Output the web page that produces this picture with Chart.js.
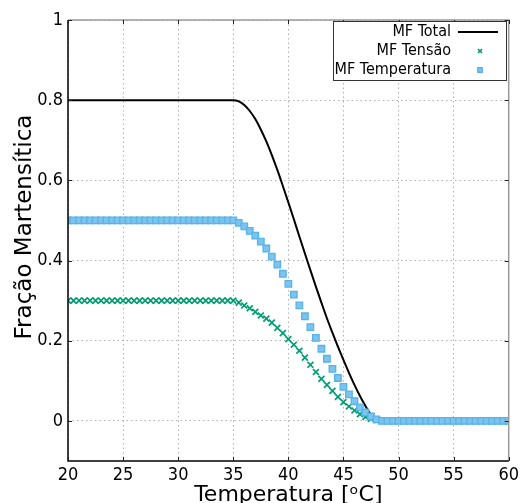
<!DOCTYPE html>
<html>
<head>
<meta charset="utf-8">
<script src="https://cdn.jsdelivr.net/npm/chart.js@4/dist/chart.umd.min.js"></script>
<style>
html,body{margin:0;padding:0;background:#fff;}
#wrap{width:523px;height:503px;}
</style>
</head>
<body>
<div id="wrap"><canvas id="c" width="523" height="503"></canvas></div>
<script>
const temperatures = [20,20.5,21,21.5,22,22.5,23,23.5,24,24.5,25,25.5,26,26.5,27,27.5,28,28.5,29,29.5,30,30.5,31,31.5,32,32.5,33,33.5,34,34.5,35,35.5,36,36.5,37,37.5,38,38.5,39,39.5,40,40.5,41,41.5,42,42.5,43,43.5,44,44.5,45,45.5,46,46.5,47,47.5,48,48.5,49,49.5,50,50.5,51,51.5,52,52.5,53,53.5,54,54.5,55,55.5,56,56.5,57,57.5,58,58.5,59,59.5,60];

const mfTotal = [0.8,0.8,0.8,0.8,0.8,0.8,0.8,0.8,0.8,0.8,0.8,0.8,0.8,0.8,0.8,0.8,0.8,0.8,0.8,0.8,0.8,0.8,0.8,0.8,0.8,0.8,0.8,0.8,0.8,0.8,0.8,
0.797,0.788,0.773,0.753,0.727,0.697,0.663,0.626,0.586,0.545,0.503,0.460,0.418,0.376,0.335,0.295,0.256,0.220,0.185,0.152,0.120,0.090,0.062,0.037,0.016,0.004,0,
0,0,0,0,0,0,0,0,0,0,0,0,0,0,0,0,0,0,0,0,0,0,0];

const mfTensao = [0.3,0.3,0.3,0.3,0.3,0.3,0.3,0.3,0.3,0.3,0.3,0.3,0.3,0.3,0.3,0.3,0.3,0.3,0.3,0.3,0.3,0.3,0.3,0.3,0.3,0.3,0.3,0.3,0.3,0.3,0.3,
0.295,0.288,0.281,0.272,0.263,0.255,0.245,0.232,0.219,0.204,0.190,0.175,0.158,0.140,0.122,0.105,0.090,0.075,0.060,0.047,0.036,0.026,0.017,0.010,0.005,0.002,0,
0,0,0,0,0,0,0,0,0,0,0,0,0,0,0,0,0,0,0,0,0,0,0];

const mfTemperatura = [0.5,0.5,0.5,0.5,0.5,0.5,0.5,0.5,0.5,0.5,0.5,0.5,0.5,0.5,0.5,0.5,0.5,0.5,0.5,0.5,0.5,0.5,0.5,0.5,0.5,0.5,0.5,0.5,0.5,0.5,0.5,
0.494,0.485,0.474,0.462,0.447,0.430,0.410,0.390,0.367,0.342,0.315,0.288,0.261,0.234,0.207,0.180,0.155,0.130,0.107,0.085,0.066,0.049,0.034,0.021,0.011,0.004,0,
0,0,0,0,0,0,0,0,0,0,0,0,0,0,0,0,0,0,0,0,0,0,0];

const xTicks = [20,25,30,35,40,45,50,55,60];
const yTicks = [0,0.2,0.4,0.6,0.8,1];
const yTickLabels = ['0','0.2','0.4','0.6','0.8','1'];
const seriesLabels = ['MF Total','MF Tensão','MF Temperatura'];
const xTitle = 'Temperatura [ᵒC]';
const yTitle = 'Fração Martensítica';

const FONT = "'DejaVu Sans Condensed','DejaVu Sans',sans-serif";
const TFONT = "'DejaVu Sans',sans-serif";
const GREEN = '#009e73';
const BLUE = '#56b4e9';

const toXY = arr => arr.map((v,i)=>({x:temperatures[i], y:v}));

const overlay = {
  id:'overlay',
  afterDraw(chart){
    const ctx = chart.ctx, a = chart.chartArea;
    const xs = chart.scales.x, ys = chart.scales.y;
    ctx.save();
    // border
    ctx.lineWidth = 1.5;
    ctx.strokeStyle = '#9a9a9a';
    ctx.beginPath();
    ctx.moveTo(a.left, a.top); ctx.lineTo(a.right, a.top); ctx.lineTo(a.right, a.bottom);
    ctx.stroke();
    ctx.strokeStyle = '#000';
    ctx.beginPath();
    ctx.moveTo(a.left, a.top); ctx.lineTo(a.left, a.bottom); ctx.lineTo(a.right, a.bottom);
    ctx.stroke();
    // inward tick marks
    ctx.lineWidth = 1;
    ctx.strokeStyle = '#222';
    ctx.beginPath();
    yTicks.forEach(v => {
      const y = Math.round(ys.getPixelForValue(v)) + 0.5;
      ctx.moveTo(a.left, y); ctx.lineTo(a.left + 4, y);
      ctx.moveTo(a.right, y); ctx.lineTo(a.right - 4, y);
    });
    xTicks.forEach(v => {
      const x = Math.round(xs.getPixelForValue(v)) + 0.5;
      ctx.moveTo(x, a.bottom); ctx.lineTo(x, a.bottom - 4);
      ctx.moveTo(x, a.top); ctx.lineTo(x, a.top + 4);
    });
    ctx.stroke();
    // titles
    ctx.fillStyle = '#000';
    ctx.font = "22px " + TFONT;
    ctx.textAlign = 'center';
    ctx.textBaseline = 'alphabetic';
    ctx.fillText(xTitle, (a.left + a.right)/2, 501);
    ctx.save();
    ctx.translate(25, 227);
    ctx.rotate(-Math.PI/2);
    ctx.textBaseline = 'middle';
    ctx.font = "23px " + TFONT;
    ctx.fillText(yTitle, 0, 0);
    ctx.restore();
    // legend
    const bx = 333.5, by = 21.5, bw = 173, bh = 59;
    ctx.fillStyle = '#fff';
    ctx.fillRect(bx, by, bw, bh);
    ctx.strokeStyle = '#333';
    ctx.lineWidth = 1;
    ctx.strokeRect(bx, by, bw, bh);
    ctx.font = "16px " + FONT;
    ctx.textAlign = 'right';
    ctx.textBaseline = 'middle';
    const rows = [32, 51, 70];
    chart.data.datasets.forEach((ds, i) => {
      const y = rows[i];
      ctx.fillStyle = '#000';
      ctx.fillText(ds.label, 451, y);
      if (i === 0) {
        ctx.strokeStyle = ds.borderColor; ctx.lineWidth = 2;
        ctx.beginPath(); ctx.moveTo(458, y); ctx.lineTo(498, y); ctx.stroke();
      } else {
        ctx.strokeStyle = ds.borderColor; ctx.fillStyle = ds.backgroundColor;
        ctx.lineWidth = ds.pointBorderWidth;
        Chart.helpers.drawPoint(ctx, {pointStyle: ds.pointStyle, radius: i === 1 ? 2.8 : 3.2, rotation: 0, borderWidth: ds.pointBorderWidth}, 480, y);
      }
    });
    ctx.restore();
  }
};

new Chart(document.getElementById('c'), {
  type: 'scatter',
  data: {
    datasets: [
      {label: seriesLabels[0], data: toXY(mfTotal), showLine: true, borderColor: '#000', backgroundColor: '#000',
       borderWidth: 2, pointRadius: 0, cubicInterpolationMode: 'monotone', order: 3},
      {label: seriesLabels[1], data: toXY(mfTensao), showLine: false, borderColor: GREEN, backgroundColor: GREEN,
       pointStyle: 'crossRot', pointRadius: 4.2, pointBorderWidth: 1.7, order: 2},
      {label: seriesLabels[2], data: toXY(mfTemperatura), showLine: false, borderColor: BLUE, backgroundColor: '#7cc3ee',
       pointStyle: 'rect', pointRadius: 4.6, pointBorderWidth: 1.3, order: 1}
    ]
  },
  options: {
    responsive: false,
    animation: false,
    devicePixelRatio: 1,
    layout: {padding: {top: 20, right: 12, left: 0, bottom: 0}},
    plugins: {legend: {display: false}, tooltip: {enabled: false}},
    scales: {
      x: {
        type: 'linear', min: 20, max: 60,
        afterBuildTicks: s => { s.ticks = xTicks.map(v => ({value: v})); },
        afterFit: s => { s.height = 42; },
        ticks: {color: '#000', font: {size: 18, family: FONT}, padding: 4, maxRotation: 0,
                callback: v => String(v)},
        grid: {color: '#b0b0b0', lineWidth: 1, drawTicks: false},
        border: {display: false, dash: [1.5, 3]}
      },
      y: {
        type: 'linear', min: -0.1, max: 1,
        afterBuildTicks: s => { s.ticks = yTicks.map(v => ({value: v})); },
        afterFit: s => { s.width = 68; },
        ticks: {color: '#000', font: {size: 18, family: FONT}, padding: 5,
                callback: v => yTickLabels[yTicks.findIndex(t => Math.abs(t - v) < 1e-9)]},
        grid: {color: '#b0b0b0', lineWidth: 1, drawTicks: false},
        border: {display: false, dash: [1.5, 3]}
      }
    }
  },
  plugins: [overlay]
});
</script>
</body>
</html>
